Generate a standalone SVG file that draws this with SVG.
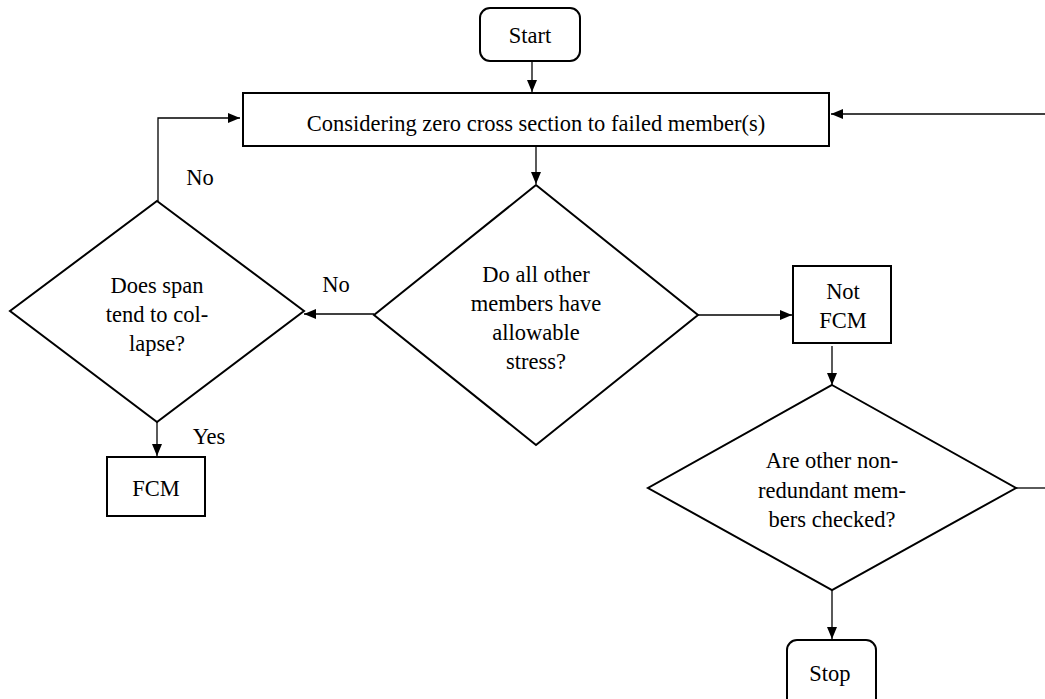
<svg xmlns="http://www.w3.org/2000/svg" width="1045" height="699" viewBox="0 0 1045 699">
<style>
.n{fill:#fff;stroke:#000;stroke-width:2}
.c{fill:none;stroke:#000;stroke-width:1.3}
.t{font-family:'Liberation Serif','Times New Roman',serif;font-size:22.5px;fill:#000;text-anchor:middle}
</style>
<defs>
<marker id="a" viewBox="0 0 12 10" refX="12" refY="5" markerWidth="12" markerHeight="10" markerUnits="userSpaceOnUse" orient="auto">
<path d="M0,0L12,5L0,10z" fill="#000"/>
</marker>
</defs>
<rect width="1045" height="699" fill="#fff"/>
<g id="connectors">
<path class="c" d="M532,61V92" marker-end="url(#a)"/>
<path class="c" d="M536,146V184" marker-end="url(#a)"/>
<path class="c" d="M374,314H304" marker-end="url(#a)"/>
<path class="c" d="M158,201V118H240" marker-end="url(#a)"/>
<path class="c" d="M157,422V456" marker-end="url(#a)"/>
<path class="c" d="M698,315H792" marker-end="url(#a)"/>
<path class="c" d="M832,346V385" marker-end="url(#a)"/>
<path class="c" d="M1016,488H1045"/>
<path class="c" d="M1045,114H831" marker-end="url(#a)"/>
<path class="c" d="M832,590V639" marker-end="url(#a)"/>
<text class="t" x="336" y="292">No</text>
<text class="t" x="200" y="185">No</text>
<text class="t" x="209" y="444">Yes</text>
</g>
<g id="start">
<rect class="n" x="480" y="8" width="100" height="53" rx="10"/>
<text class="t" x="530" y="43">Start</text>
</g>
<g id="consider">
<rect class="n" x="243" y="93" width="586" height="53"/>
<text class="t" x="536" y="131">Considering zero cross section to failed member(s)</text>
</g>
<g id="allowable">
<polygon class="n" points="536,185 698,315 536,445 374,315"/>
<text class="t" x="536" y="282">Do all other</text>
<text class="t" x="536" y="311">members have</text>
<text class="t" x="536" y="340">allowable</text>
<text class="t" x="536" y="369">stress?</text>
</g>
<g id="collapse">
<polygon class="n" points="157,201 304,311 157,422 10,311"/>
<text class="t" x="157" y="293">Does span</text>
<text class="t" x="157" y="322">tend to col-</text>
<text class="t" x="157" y="351">lapse?</text>
</g>
<g id="fcm">
<rect class="n" x="107" y="457" width="98" height="59"/>
<text class="t" x="156" y="496">FCM</text>
</g>
<g id="notfcm">
<rect class="n" x="793" y="266" width="98" height="77"/>
<text class="t" x="843" y="299">Not</text>
<text class="t" x="843" y="328">FCM</text>
</g>
<g id="checked">
<polygon class="n" points="832,385 1016,488 832,590 648,488"/>
<text class="t" x="832" y="468">Are other non-</text>
<text class="t" x="832" y="498">redundant mem-</text>
<text class="t" x="832" y="527">bers checked?</text>
</g>
<g id="stop">
<rect class="n" x="787" y="640" width="89" height="70" rx="10"/>
<text class="t" x="830" y="681">Stop</text>
</g>
</svg>
